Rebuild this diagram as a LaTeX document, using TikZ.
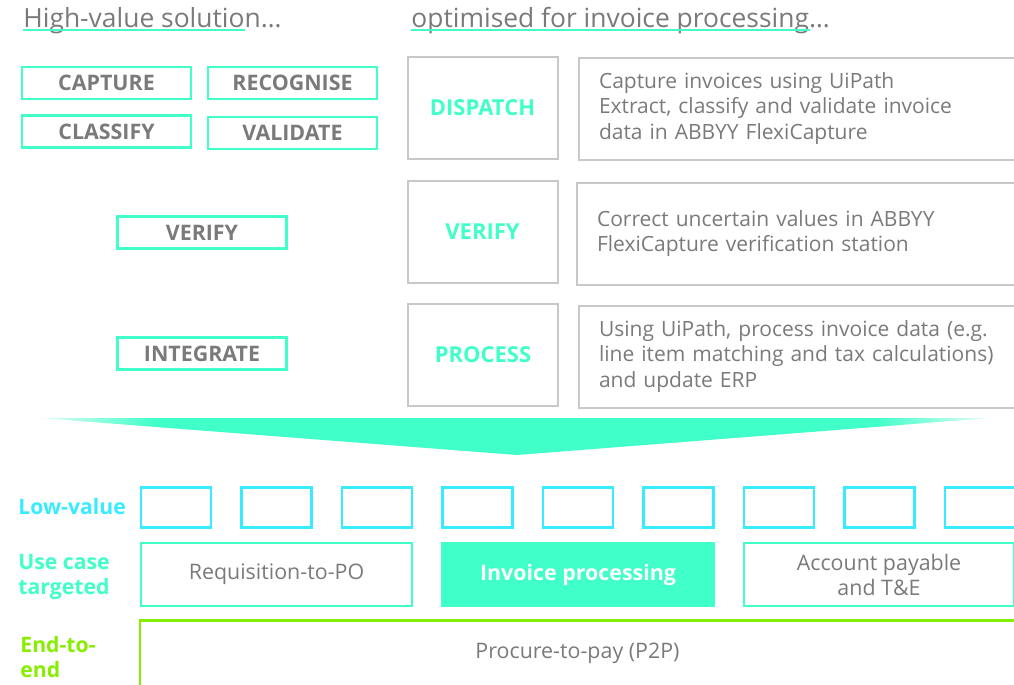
\documentclass[tikz,border=0pt]{standalone}
\usepackage{fontspec}
\setmainfont{Open Sans}
\usetikzlibrary{positioning}

\definecolor{mint}{RGB}{64,255,200}
\definecolor{lowcyan}{RGB}{56,236,255}
\definecolor{lime}{RGB}{136,238,0}
\definecolor{boxgray}{RGB}{200,200,200}
\definecolor{txtgray}{RGB}{122,122,122}

\begin{document}
\begin{tikzpicture}[x=0.5pt, y=-0.5pt,
  header/.style={anchor=base west, inner sep=0pt, text=txtgray, font=\fontsize{13.2}{16}\selectfont},
  underline/.style={mint, line width=0.8pt},
  stagebox/.style={draw=mint, line width=1.2pt, text=txtgray, inner sep=0pt,
    minimum width=84.5pt, minimum height=16pt, font=\bfseries\fontsize{10.7}{12}\selectfont},
  phasebox/.style={draw=boxgray, line width=1pt, text=mint, inner sep=0pt,
    minimum width=75pt, minimum height=51pt, font=\bfseries\fontsize{11}{12}\selectfont},
  descbox/.style={draw=boxgray, line width=1pt, text=txtgray, anchor=west, align=left,
    text width=215pt, inner xsep=10pt, minimum height=51pt, font=\fontsize{10.5}{12.75}\selectfont},
  lowbox/.style={draw=lowcyan, line width=1.2pt, minimum width=35pt, minimum height=20pt, inner sep=0pt},
  usebox/.style={draw=mint, line width=1.2pt, text=txtgray, align=center, inner sep=0pt,
    minimum height=31.5pt, font=\fontsize{10.7}{12.5}\selectfont},
  rowlabel/.style={anchor=west, align=left, inner sep=0pt, font=\bfseries\fontsize{10.6}{12.5}\selectfont}
]

% Custom shading for the funnel
\pgfdeclarehorizontalshading{funnelshade}{100bp}{
  color(0bp)=(white);
  color(25bp)=(mint!15);
  color(31bp)=(mint);
  color(69bp)=(mint);
  color(75bp)=(mint!15);
  color(100bp)=(white)
}

\useasboundingbox (0,0) rectangle (1014,685);
\clip (0,0) rectangle (1014,685);

% Headers
\node[header] (hv) at (23,27) {High-value solution…};
\node[header] (opt) at (411,27) {optimised for invoice processing…};
\draw[underline] ([yshift=-1.5pt]hv.base west) -- ++(222,0);
\draw[underline] ([yshift=-1.5pt]opt.base west) -- ++(399,0);

% Solution stages (left)
\node[stagebox] (capture) at (106.5,83) {CAPTURE};
\node[stagebox] (recognise) at (292.5,83) {RECOGNISE};
\node[stagebox] (classify) at (106.5,131.5) {CLASSIFY};
\node[stagebox] (validate) at (292.5,133) {VALIDATE};
\node[stagebox] (verifyL) at (202,232.5) {VERIFY};
\node[stagebox] (integrate) at (202,353.5) {INTEGRATE};

% Invoice phases (middle)
\node[phasebox] (dispatch) at (482.5,108) {DISPATCH};
\node[phasebox] (verifyM) at (482.5,232) {VERIFY};
\node[phasebox] (process) at (483,355) {PROCESS};

% Descriptions (right)
\node[descbox] (dDispatch) at (578,108.5) {Capture invoices using UiPath\\Extract, classify and validate invoice\\data in ABBYY FlexiCapture};
\node[descbox] (dVerify) at (576,233.5) {Correct uncertain values in ABBYY\\FlexiCapture verification station};
\node[descbox] (dProcess) at (578,356.5) {Using UiPath, process invoice data (e.g.\\line item matching and tax calculations)\\and update ERP};

% Funnel
\shade[shading=funnelshade] (40,418) -- (990,418) -- (517,455) -- cycle;

% Low-value row
\node[rowlabel, text=lowcyan] (lowlbl) at (18,507) {Low-value};
\foreach \i in {0,...,8}
  \node[lowbox] (low\i) at (176+100.5*\i,507.5) {};

% Use case row
\node[rowlabel, text=mint] (uselbl) at (18,577) {Use case\\targeted};
\node[usebox, minimum width=135.5pt] (req) at (276.5,574.5) {Requisition-to-PO};
\node[usebox, minimum width=136pt, fill=mint, text=white, font=\bfseries\fontsize{10.7}{12.5}\selectfont] (inv) at (578,574.5) {Invoice processing};
\node[usebox, minimum width=135pt] (ap) at (879,574.5) {Account payable\\and T\&E};

% End-to-end row
\node[rowlabel, text=lime] (e2elbl) at (20,657.5) {End-to-\\end};
\node[usebox, draw=none, minimum width=436.5pt] (e2e) at (577.5,653) {Procure-to-pay (P2P)};
\draw[lime, line width=1.2pt] ([xshift=10pt]e2e.north east) -| (e2e.south west) -- ([xshift=10pt]e2e.south east);

\end{tikzpicture}
\end{document}
